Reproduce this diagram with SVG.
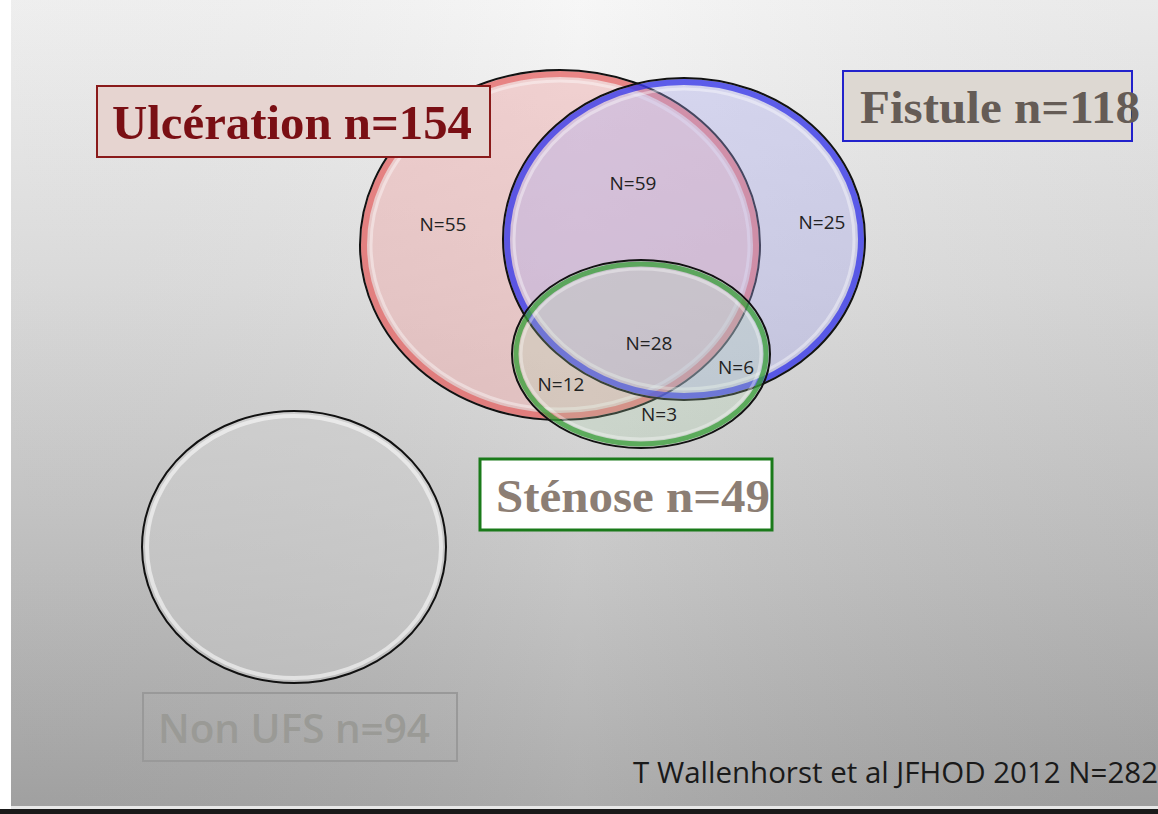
<svg xmlns="http://www.w3.org/2000/svg" width="1158" height="814" viewBox="0 0 1158 814">
<defs>
<linearGradient id="bg" x1="0" y1="0" x2="0" y2="1">
<stop offset="0" stop-color="#f6f6f6"/>
<stop offset="0.35" stop-color="#e0e0e0"/>
<stop offset="0.7" stop-color="#c2c2c2"/>
<stop offset="1" stop-color="#a4a4a4"/>
</linearGradient>
<linearGradient id="bgx" x1="0" y1="0" x2="1" y2="0">
<stop offset="0" stop-color="#000" stop-opacity="0.03"/>
<stop offset="0.5" stop-color="#fff" stop-opacity="0.08"/>
<stop offset="1" stop-color="#000" stop-opacity="0.05"/>
</linearGradient>
<style>
.n{font-family:"Open Sans","DejaVu Sans",sans-serif;font-size:19px;fill:#222;text-anchor:middle}
.big{font-family:"Liberation Serif","DejaVu Serif",serif;font-weight:bold}
.edge{fill:none;stroke:#111;stroke-width:2}
</style>
</defs>
<rect x="0" y="0" width="1158" height="814" fill="url(#bg)"/>
<rect x="0" y="0" width="1158" height="814" fill="url(#bgx)"/>
<rect x="0" y="0" width="11" height="814" fill="#ffffff"/>
<rect x="11" y="806" width="1147" height="3" fill="#e8e8e8"/>
<rect x="0" y="809" width="1158" height="5" fill="#1a1a1a"/>

<g id="ulceration-circle">
<ellipse cx="560" cy="245" rx="200" ry="175" fill="#f0a8a8" fill-opacity="0.45"/>
<ellipse cx="560" cy="245" rx="196" ry="171" fill="none" stroke="#e03a3a" stroke-width="6" stroke-opacity="0.5"/>
<ellipse cx="560" cy="245" rx="189" ry="164" fill="none" stroke="#fff" stroke-width="3" stroke-opacity="0.4"/>
<ellipse cx="560" cy="245" rx="200" ry="175" class="edge"/>
</g>
<g id="fistule-circle">
<ellipse cx="684" cy="239" rx="181" ry="161" fill="#a8a8f0" fill-opacity="0.35"/>
<ellipse cx="684" cy="239" rx="177" ry="157" fill="none" stroke="#2a2ae8" stroke-width="6" stroke-opacity="0.7"/>
<ellipse cx="684" cy="239" rx="170" ry="150" fill="none" stroke="#fff" stroke-width="3" stroke-opacity="0.4"/>
<ellipse cx="684" cy="239" rx="181" ry="161" class="edge"/>
</g>
<g id="stenose-circle">
<ellipse cx="641" cy="354" rx="129" ry="94" fill="#b0d8b0" fill-opacity="0.25"/>
<ellipse cx="641" cy="354" rx="125" ry="90" fill="none" stroke="#2e9a2e" stroke-width="5" stroke-opacity="0.7"/>
<ellipse cx="641" cy="354" rx="120" ry="85" fill="none" stroke="#fff" stroke-width="3" stroke-opacity="0.35"/>
<ellipse cx="641" cy="354" rx="129" ry="94" class="edge"/>
</g>
<g id="nonufs-circle">
<ellipse cx="294" cy="547" rx="152" ry="136" fill="#d0d0d0" fill-opacity="0.4"/>
<ellipse cx="294" cy="547" rx="147" ry="131" fill="none" stroke="#fff" stroke-width="4" stroke-opacity="0.55"/>
<ellipse cx="294" cy="547" rx="152" ry="136" class="edge"/>
</g>

<g id="counts">
<text class="n" x="443" y="231">N=55</text>
<text class="n" x="633" y="190">N=59</text>
<text class="n" x="822" y="229">N=25</text>
<text class="n" x="649" y="350">N=28</text>
<text class="n" x="736" y="374">N=6</text>
<text class="n" x="561" y="391">N=12</text>
<text class="n" x="659" y="421">N=3</text>
</g>

<g id="label-ulceration">
<rect x="97" y="86" width="393" height="71" fill="#e6d4d0" stroke="#8a1a1a" stroke-width="2"/>
<text class="big" x="112" y="139" fill="#7a0f14" font-size="48" textLength="360" lengthAdjust="spacingAndGlyphs">Ulcération n=154</text>
</g>
<g id="label-fistule">
<rect x="843" y="71" width="289" height="70" fill="#ddd8d2" stroke="#2222cc" stroke-width="2"/>
<text class="big" x="860" y="123" fill="#655c56" font-size="46" textLength="280" lengthAdjust="spacingAndGlyphs">Fistule n=118</text>
</g>
<g id="label-stenose">
<rect x="480" y="459" width="292" height="71" fill="#ffffff" stroke="#1a7a1a" stroke-width="3"/>
<text class="big" x="496" y="512" fill="#8c7e74" font-size="46" textLength="274" lengthAdjust="spacingAndGlyphs">Sténose n=49</text>
</g>
<g id="label-nonufs">
<rect x="143" y="693" width="314" height="68" fill="none" stroke="#999" stroke-width="2"/>
<text x="158" y="743" font-family="Open Sans,DejaVu Sans,sans-serif" font-weight="600" font-size="40" fill="#9a9a96" textLength="272" lengthAdjust="spacingAndGlyphs">Non UFS n=94</text>
</g>
<text x="633" y="783" font-family="Open Sans,DejaVu Sans,sans-serif" font-size="29" fill="#1a1a1a" textLength="525" lengthAdjust="spacingAndGlyphs">T Wallenhorst et al JFHOD 2012 N=282</text>
</svg>
